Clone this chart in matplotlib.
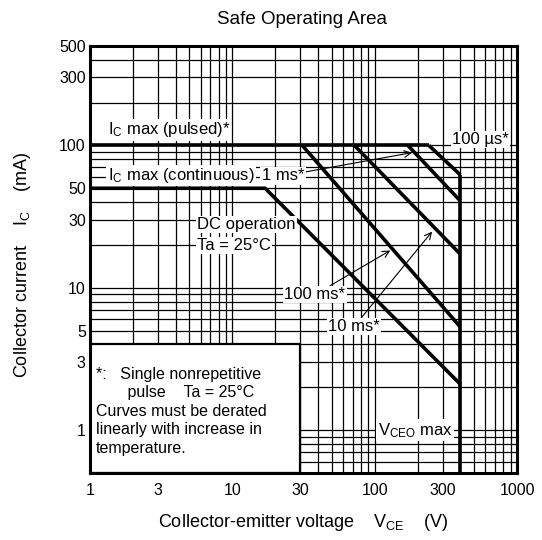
import matplotlib
matplotlib.use("Agg")
import matplotlib.pyplot as plt
from matplotlib.patches import Rectangle

plt.rcParams['font.family'] = ['Liberation Sans', 'DejaVu Sans']
plt.rcParams['mathtext.fontset'] = 'custom'
plt.rcParams['mathtext.rm'] = 'Liberation Sans'
plt.rcParams['mathtext.it'] = 'Liberation Sans'

# SOA boundary curves (V_CE in V, I_C in mA)
pulsed_v = [1, 240]
pulsed_i = [100, 100]
us100_v = [240, 400]
us100_i = [100, 62]
ms1_v = [171, 400]
ms1_i = [100, 40.7]
ms10_v = [72, 400]
ms10_i = [100, 17.2]
ms100_v = [31, 400]
ms100_i = [100, 5.3]
dc_v = [1, 17, 400]
dc_i = [50, 50, 2.1]
vceo_v = [400, 400]
vceo_i = [0.5, 62]

x_ticks = [1, 3, 10, 30, 100, 300, 1000]
y_ticks = [1, 3, 5, 10, 30, 50, 100, 300, 500]
x_grid = [k * d for d in (1, 10, 100) for k in range(1, 10)] + [1000]
y_grid = [k * d for d in (0.1, 1, 10, 100) for k in range(1, 10) if 0.5 <= k * d <= 500]

fig = plt.figure(figsize=(5.42, 5.40), dpi=100)
ax = fig.add_axes([0.166, 0.124, 0.788, 0.791])
ax.set_xscale('log')
ax.set_yscale('log')
ax.set_xlim(1, 1000)
ax.set_ylim(0.5, 500)

# grid
for gx in x_grid:
    ax.axvline(gx, color='k', lw=0.9, zorder=1)
for gy in y_grid:
    ax.axhline(gy, color='k', lw=0.9, zorder=1)

ax.set_xticks(x_ticks)
ax.set_xticklabels([str(t) for t in x_ticks])
ax.set_yticks(y_ticks)
ax.set_yticklabels([str(t) for t in y_ticks])
ax.minorticks_off()
ax.tick_params(length=0, labelsize=11.5)
ax.tick_params(axis='x', pad=7)
ax.tick_params(axis='y', pad=3)
for s in ax.spines.values():
    s.set_linewidth(2.2)
    s.set_zorder(10)

# curves
lw = 2.6
for v, i in [(pulsed_v, pulsed_i), (us100_v, us100_i), (ms1_v, ms1_i),
             (ms10_v, ms10_i), (ms100_v, ms100_i), (dc_v, dc_i), (vceo_v, vceo_i)]:
    ax.plot(v, i, color='k', lw=lw, solid_capstyle='butt', zorder=5)

# note box
ax.add_patch(Rectangle((1, 0.5), 29, 3.5, facecolor='white', edgecolor='k', lw=1.6, zorder=6))
note = ("*:   Single nonrepetitive\n"
        "       pulse    Ta = 25\u00b0C\n"
        "Curves must be derated\n"
        "linearly with increase in\n"
        "temperature.")
ax.text(1.1, 2.8, note, fontsize=11.5, va='top', ha='left', linespacing=1.3, zorder=7)

wb = dict(facecolor='white', edgecolor='none', pad=1.0)
fs = 12
ax.text(1.33, 129, r'I$_{\mathrm{C}}$ max (pulsed)*', fontsize=fs, va='center', ha='left', bbox=wb, zorder=7)
ax.text(1.33, 61.5, r'I$_{\mathrm{C}}$ max (continuous)', fontsize=fs, va='center', ha='left', bbox=wb, zorder=7)
ax.text(5.65, 27.8, 'DC operation', fontsize=fs, va='center', ha='left', bbox=wb, zorder=7)
ax.text(5.65, 19.8, 'Ta = 25\u00b0C', fontsize=fs, va='center', ha='left', bbox=wb, zorder=7)
ax.text(552, 110, '100 \u00b5s*', fontsize=fs, va='center', ha='center', bbox=wb, zorder=7)
ax.text(192, 1.0, r'V$_{\mathrm{CEO}}$ max', fontsize=fs, va='center', ha='center', bbox=wb, zorder=7)

arrow = dict(arrowstyle='->', color='k', lw=0.8, shrinkA=0, shrinkB=0)
ax.annotate('1 ms*', xy=(183, 89), xytext=(22.7, 61), fontsize=fs, va='center', ha='center',
            bbox=wb, arrowprops=arrow, zorder=7)
ax.annotate('100 ms*', xy=(128.7, 18.3), xytext=(38, 8.95), fontsize=fs, va='center', ha='center',
            bbox=wb, arrowprops=arrow, zorder=7)
ax.annotate('10 ms*', xy=(253, 24.8), xytext=(71.6, 5.34), fontsize=fs, va='center', ha='center',
            bbox=wb, arrowprops=arrow, zorder=7)

fig.text(0.558, 0.963, 'Safe Operating Area', fontsize=13.5, ha='center', va='center')
fig.text(0.559, 0.032, r'Collector-emitter voltage    V$_{\mathrm{CE}}$    (V)', fontsize=13,
         ha='center', va='center')
fig.text(0.041, 0.51, r'Collector current    I$_{\mathrm{C}}$    (mA)', fontsize=13,
         ha='center', va='center', rotation=90)

fig.savefig('out.png', dpi=100)
